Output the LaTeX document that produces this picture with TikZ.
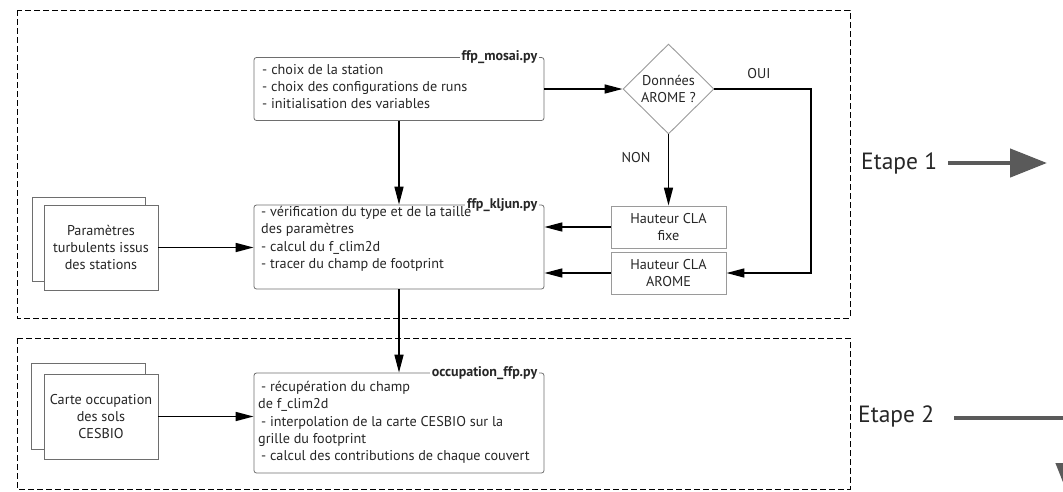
\documentclass[tikz,border=0pt]{standalone}
\usepackage{fontspec}
\setmainfont{PT Sans}
\usetikzlibrary{arrows.meta,shapes.geometric,calc}
\definecolor{txtc}{HTML}{262626}
\definecolor{boxc}{HTML}{6E6E6E}
\definecolor{lboxc}{HTML}{9A9A9A}
\definecolor{bigc}{HTML}{5A5A5A}
\begin{document}
\begin{tikzpicture}[x=1pt,y=-1pt,
  font=\fontsize{14.2}{17.3}\selectfont, text=txtc,
  frame/.style={draw=black, dash pattern=on 6pt off 3pt, line width=1pt},
  prog/.style={draw=boxc, rounded corners=2.5pt, line width=0.8pt, inner sep=0pt},
  hbox/.style={draw=lboxc, line width=0.9pt, align=center, inner sep=0pt},
  dat/.style={draw=boxc, fill=white, line width=0.8pt, align=center, inner sep=0pt},
  decis/.style={diamond, draw=lboxc, line width=0.9pt, inner sep=0pt, align=center},
  arr/.style={draw=black, line width=1.6pt, -{Triangle[length=18pt,width=9pt]}},
  big/.style={draw=bigc, line width=4.5pt, -{Triangle[length=37pt,width=28pt]}},
  ttl/.style={font=\fontsize{14}{16}\selectfont\bfseries, fill=white, inner xsep=2pt, inner ysep=1pt, anchor=east},
  txt/.style={align=left, anchor=north west, inner sep=0pt},
  lbl/.style={inner sep=0pt},
  etape/.style={font=\fontsize{23.5}{27}\selectfont, anchor=west, inner sep=0pt},
]
\useasboundingbox (0,0) rectangle (1063,491);
\clip (0,0) rectangle (1063,491);

% stage frames
\draw[frame] (17,10) rectangle (850,318);
\draw[frame] (17,338) rectangle (850,489);

% program boxes
\node[prog, minimum width=290pt, minimum height=63pt] (mosai) at (399,89) {};
\node[prog, minimum width=290pt, minimum height=84pt] (kljun) at (399,247) {};
\node[prog, minimum width=290pt, minimum height=100pt] (occ) at (399,423) {};

\node[ttl] (mosaiT) at ([xshift=-5pt]mosai.north east) {ffp\_mosai.py};
\node[ttl] (kljunT) at ([xshift=-5pt]kljun.north east) {ffp\_kljun.py};
\node[ttl] (occT) at ([xshift=-5pt]occ.north east) {occupation\_ffp.py};

\node[txt] (mosaiX) at (262,64) {-\hspace*{4pt}choix de la station\\- choix des configurations de runs\\- initialisation des variables};
\node[txt] (kljunX) at (261,206) {- vérification du type et de la taille\\des paramètres\\- calcul du f\_clim2d\\- tracer du champ de footprint};
\node[txt] (occX) at (258,381) {\hspace*{3pt}- récupération du champ\\de f\_clim2d\\\hspace*{3pt}- interpolation de la carte CESBIO sur la\\grille du footprint\\\hspace*{3pt}- calcul des contributions de chaque couvert};

% decision and CLA boxes
\node[decis, minimum width=91pt, minimum height=90pt] (diam) at (668.5,89) {};
\node[lbl, align=center] (diamX) at (668.5,89) {Données\\AROME ?};
\node[hbox, minimum width=115pt, minimum height=42pt] (fixe) at (668.5,227) {Hauteur CLA\\fixe};
\node[hbox, minimum width=115pt, minimum height=42pt] (arome) at (668.5,273) {Hauteur CLA\\AROME};

% data stacks
\node[dat, minimum width=113pt, minimum height=84pt] (parB) at (88.5,239) {};
\node[dat, minimum width=114pt, minimum height=85pt] (par) at (101,247.5) {Paramètres\\turbulents issus\\des stations};
\node[dat, minimum width=114pt, minimum height=86pt] (carB) at (88,406) {};
\node[dat, minimum width=114pt, minimum height=85pt] (car) at (101,416.5) {Carte occupation\\des sols\\CESBIO};

% connectors
\draw[arr] (mosai.east) -- (diam.west);
\draw[arr] (mosai.south) -- (kljun.north);
\draw[arr] (diam.south) -- (fixe.north);
\draw[arr] (fixe.west) -- (kljun.east |- fixe.west);
\draw[arr] (arome.west) -- (kljun.east |- arome.west);
\coordinate (ouiC) at (811,273);
\draw[arr] (diam.east) -| (ouiC) -- (arome.east);
\draw[arr] (par.east) -- (kljun.west |- par.east);
\draw[arr] (kljun.south) -- (occ.north);
\draw[arr] (car.east) -- (occ.west |- car.east);

\node[lbl] (oui) at (759,74) {OUI};
\node[lbl] (non) at (636,158) {NON};

% stage labels
\node[etape] (e1) at (861,163) {Etape 1};
\node[etape] (e2) at (858,416) {Etape 2};
\coordinate (e1s) at (948,163);
\coordinate (e1e) at (1047,163);
\draw[big] (e1s) -- (e1e);
\coordinate (e2s) at (954,418);
\coordinate (e2c) at (1070,418);
\coordinate (e2e) at (1070,500);
\draw[big] (e2s) -- (e2c) -- (e2e);
\end{tikzpicture}
\end{document}
